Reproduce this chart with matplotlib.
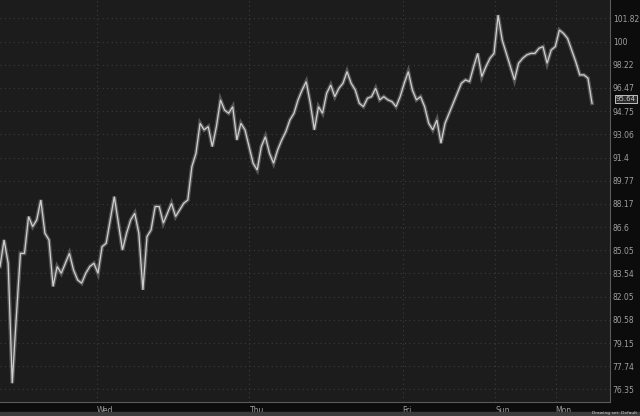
import matplotlib
matplotlib.use("Agg")
import matplotlib.pyplot as plt
from matplotlib.ticker import FixedLocator, NullLocator

# price trace, one reading about every 4 px of the chart
price = [83.99, 85.74, 84.20, 76.72, 80.79, 84.85, 84.85, 87.31, 86.63, 87.08,
         88.44, 86.19, 85.74, 82.70, 83.99, 83.55, 84.20, 84.85, 83.77, 83.12,
         82.91, 83.55, 83.99, 84.20, 83.55, 85.29, 85.52, 87.08, 88.67, 86.86,
         85.07, 86.19, 87.08, 87.53, 86.19, 82.48, 85.96, 86.41, 87.99, 87.99,
         86.86, 87.53, 88.21, 87.31, 87.76, 88.21, 88.44, 90.76, 91.70, 93.86,
         93.38, 93.62, 92.18, 93.62, 95.58, 94.83, 94.59, 95.08, 92.65, 93.86,
         93.38, 92.18, 90.99, 90.52, 92.18, 92.89, 91.70, 90.99, 91.94, 92.65,
         93.25, 94.10, 94.59, 95.58, 96.32, 96.94, 95.33, 93.38, 95.08, 94.59,
         96.07, 96.69, 95.82, 96.44, 96.82, 97.70, 96.82, 96.32, 95.33, 95.08,
         95.70, 95.82, 96.44, 95.58, 95.82, 95.58, 95.45, 95.08, 95.82, 96.82,
         97.70, 96.32, 95.58, 95.82, 95.08, 93.86, 93.38, 94.10, 92.42, 93.86,
         94.59, 95.33, 96.07, 96.82, 97.07, 96.94, 98.07, 99.09, 97.32, 98.07,
         98.71, 99.09, 102.08, 100.12, 99.09, 98.07, 97.07, 98.33, 98.71, 98.97,
         99.09, 99.09, 99.48, 99.61, 98.33, 99.35, 99.61, 100.90, 100.64, 100.25,
         99.35, 98.46, 97.45, 97.45, 97.20, 95.33]

last_close = 95.64
y_ticks = [101.82, 100, 98.22, 96.47, 94.75, 93.06, 91.4, 89.77, 88.17, 86.6,
           85.05, 83.54, 82.05, 80.58, 79.15, 77.74, 76.35]
day_labels = ["Wed", "Thu", "Fri", "Sun", "Mon"]
day_pos = [23.8, 61.1, 98.6, 121.3, 136.1]

fig = plt.figure(figsize=(6.4, 4.16), dpi=100)
fig.patch.set_facecolor("#0c0c0c")
ax = fig.add_axes([0, 14.5 / 416, 610 / 640, 401.5 / 416])
ax.set_facecolor("#1c1c1c")

x = range(len(price))
ax.plot(x, price, color="#9a9a9a", lw=2.8, alpha=0.45, solid_joinstyle="miter")
ax.plot(x, price, color="#cfcfcf", lw=0.9, solid_joinstyle="miter")

ax.set_yscale("log")
ax.set_ylim(75.64, 103.28)
ax.set_xlim(0, 149.4)
ax.yaxis.set_major_locator(FixedLocator(y_ticks))
ax.yaxis.set_minor_locator(NullLocator())
ax.set_yticks(y_ticks)
ax.set_yticklabels([f"{v:g}" for v in y_ticks])
ax.yaxis.tick_right()
ax.tick_params(axis="y", length=0, pad=2, labelsize=5.5, labelcolor="#a0a0a0")
ax.set_xticks(day_pos)
ax.set_xticklabels(day_labels, ha="left")
ax.tick_params(axis="x", length=0, pad=3, labelsize=5.5, labelcolor="#a0a0a0")

ax.grid(True, color="#3c3c3c", ls=(0, (1, 3)), lw=0.8)
for s in ["top", "left"]:
    ax.spines[s].set_visible(False)
ax.spines["right"].set_color("#5a5a5a")
ax.spines["bottom"].set_color("#5a5a5a")

ax.annotate(f"{last_close:.2f}", xy=(1.0, last_close), xycoords=("axes fraction", "data"),
            xytext=(4, 0), textcoords="offset points", va="center", ha="left",
            fontsize=5, color="#c8c8c8",
            bbox=dict(boxstyle="square,pad=0.15", fc="#2c2c2c", ec="#d8d8d8", lw=0.6))

# status strip at the bottom
fig.patches.append(plt.Rectangle((0, 0), 1, 4 / 416, transform=fig.transFigure,
                                 color="#3c3c3c", zorder=0))
fig.text(0.995, 0.002, "Drawing set: Default", fontsize=3.2, color="#d0d0d0",
         ha="right", va="bottom")

fig.savefig("out.png", dpi=100, facecolor=fig.get_facecolor())
